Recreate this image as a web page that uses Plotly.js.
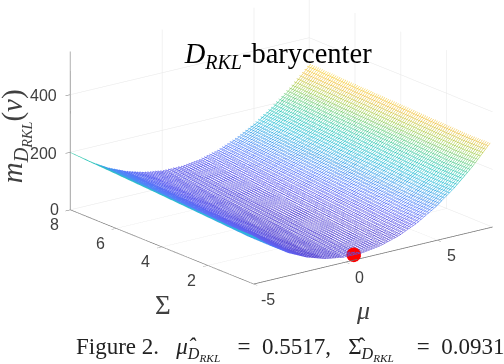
<!DOCTYPE html>
<html><head><meta charset="utf-8">
<script src="https://cdn.plot.ly/plotly-3.0.1.min.js"></script>
<style>html,body{margin:0;padding:0;background:#fff}#p{width:504px;height:364px}</style></head>
<body><div id="p"></div>
<script>
const muValues = [-5,-4,-3,-2,-1,0,1,2,3,4,5,6,7,8];
const sigmaValues = [0.1,1,2,3,4,5,6,7,8];
const row01 = [166,116,75,44.5,24,13.5,13,22.5,42,71.5,111,160.5,220,289.5];
const row1 = [167,117,77,47,27,16.5,16,25.4,44.6,73.7,112.6,161.4,220,288.6];
const row2 = [172,122.6,83.2,53.6,33.7,23.5,23,32.2,51.2,79.8,118.2,166.3,224.2,291.7];
const row3 = [176.5,128.2,89.4,60.1,40.5,30.4,30,39,57.7,86,123.8,171.3,228.3,294.8];
const row4 = [181.4,133.7,95.5,66.7,47.3,37.4,37,45.9,64.3,92.2,129.5,176.2,232.4,298];
const row5 = [186.2,139.3,101.6,73.2,54.2,44.4,44,52.8,70.9,98.3,135.1,181.1,236.4,301.1];
const row6 = [190.7,144.2,107,78.9,60,50.4,50,58.7,76.6,103.7,140.1,185.6,240.4,304.3];
const row7 = [195.4,149.4,112.5,84.6,65.9,56.4,55.9,64.6,82.4,109.3,145.3,190.4,244.7,308];
const row8 = [199.5,153.8,117.1,89.4,70.9,61.4,60.9,69.5,87.2,113.9,149.7,194.5,248.4,311.4];
const zRows = [row01,row1,row2,row3,row4,row5,row6,row7,row8];
const muTicks = [-5,0,5];
const sigmaTicks = [2,4,6,8];
const zTicks = [0,200,400];
const muHat = [0.5517], sigmaHat = [0.0931], mHat = [15];
const parula = [[0,'rgb(95,80,215)'],[0.1,'rgb(95,95,240)'],[0.2,'rgb(85,125,250)'],[0.3,'rgb(60,160,235)'],[0.4,'rgb(40,190,215)'],[0.5,'rgb(45,200,180)'],[0.6,'rgb(95,205,130)'],[0.7,'rgb(170,205,70)'],[0.8,'rgb(240,192,60)'],[0.9,'rgb(253,218,50)'],[1,'rgb(250,248,35)']];
const tickFont = {family:'Liberation Sans',size:16,color:'#404040'};
const axisBase = {showbackground:false,showgrid:true,gridcolor:'#e6e6e6',gridwidth:1,showline:true,linecolor:'#707070',linewidth:1.5,ticks:'outside',ticklen:6,tickcolor:'#707070',showticklabels:false,zeroline:false,showspikes:false,title:{text:''}};
const d = 1.19;
const cx = -0.128, cy = 0.0987, cz = -0.247;
const data = [
 {type:'surface',x:muValues,y:sigmaValues,z:zRows,hidesurface:true,showscale:false,colorscale:parula,cmin:0,cmax:312,
  contours:{x:{show:true,start:-5,end:8,size:0.14,usecolormap:true,width:1,highlight:false},
            y:{show:true,start:0.1,end:8,size:0.085,usecolormap:true,width:1,highlight:false},
            z:{highlight:false}},hoverinfo:'skip'},
 {type:'scatter3d',mode:'markers',x:muHat,y:sigmaHat,z:mHat,marker:{size:8.5,color:'#ff0000',line:{width:0}}}
];
const tickNote = (x,y,z,text,xshift,yshift) => ({x,y,z,text,xshift,yshift,xanchor:'center',yanchor:'middle',showarrow:false,font:tickFont});
const tickLabels = [
 ...muTicks.map(v=>tickNote(v,0,0,String(v),14,-15)),
 ...sigmaTicks.map(v=>tickNote(-5,v,0,String(v),-16,-15)),
 ...zTicks.map(v=>tickNote(-5,8,v,String(v),v===0?-16:-26.5,v===0?0:-1))
];
const layout = {width:504,height:364,margin:{l:0,r:0,t:0,b:0},paper_bgcolor:'#fff',showlegend:false,
 title:{text:'<i>D</i><sub><i>RKL</i></sub>-barycenter',font:{family:'Liberation Serif',size:28.5,color:'#000'},x:0.552,xanchor:'center',y:0.855,yanchor:'middle'},
 scene:{domain:{x:[0,1],y:[0,1]},aspectmode:'manual',aspectratio:{x:1.655,y:1.655,z:0.915},
  camera:{projection:{type:'orthographic'},eye:{x:cx-0.579*d,y:cy-0.754*d,z:cz+0.3106*d},center:{x:cx,y:cy,z:cz},up:{x:0,y:0,z:1}},
  xaxis:Object.assign({},axisBase,{range:[-5,8],tickvals:muTicks}),
  yaxis:Object.assign({},axisBase,{range:[0,8],tickvals:sigmaTicks}),
  zaxis:Object.assign({},axisBase,{range:[0,550],tickvals:zTicks}),
  annotations:tickLabels},
 annotations:[
  {xref:'paper',yref:'paper',x:0.72,y:0.148,xanchor:'center',yanchor:'middle',showarrow:false,text:'<i>μ</i>',font:{family:'Liberation Serif',size:26,color:'#404040'}},
  {xref:'paper',yref:'paper',x:0.323,y:0.162,xanchor:'center',yanchor:'middle',showarrow:false,text:'Σ',font:{family:'Liberation Serif',size:27,color:'#404040'}},
  {xref:'paper',yref:'paper',x:0.03,y:0.626,xanchor:'center',yanchor:'middle',showarrow:false,textangle:-90,text:'<i>m</i><sub><i>D</i><sub><i>RKL</i></sub></sub>(<i>ν</i>)',font:{family:'Liberation Serif',size:29,color:'#404040'}},
  {xref:'paper',yref:'paper',x:0.146,xanchor:'left',y:0.042,yanchor:'middle',showarrow:false,text:'Figure 2.&nbsp;&nbsp;&nbsp;<i>μ̂</i><sub><i>D</i><sub><i>RKL</i></sub></sub>&nbsp;&nbsp;&nbsp;=&nbsp;&nbsp;0.5517,&nbsp;&nbsp;&nbsp;Σ̂<sub><i>D</i><sub><i>RKL</i></sub></sub>&nbsp;&nbsp;&nbsp;&nbsp;=&nbsp;&nbsp;0.0931',font:{family:'Liberation Serif',size:23,color:'#222'}}
 ]};
Plotly.newPlot('p',data,layout,{displayModeBar:false});
</script></body></html>
